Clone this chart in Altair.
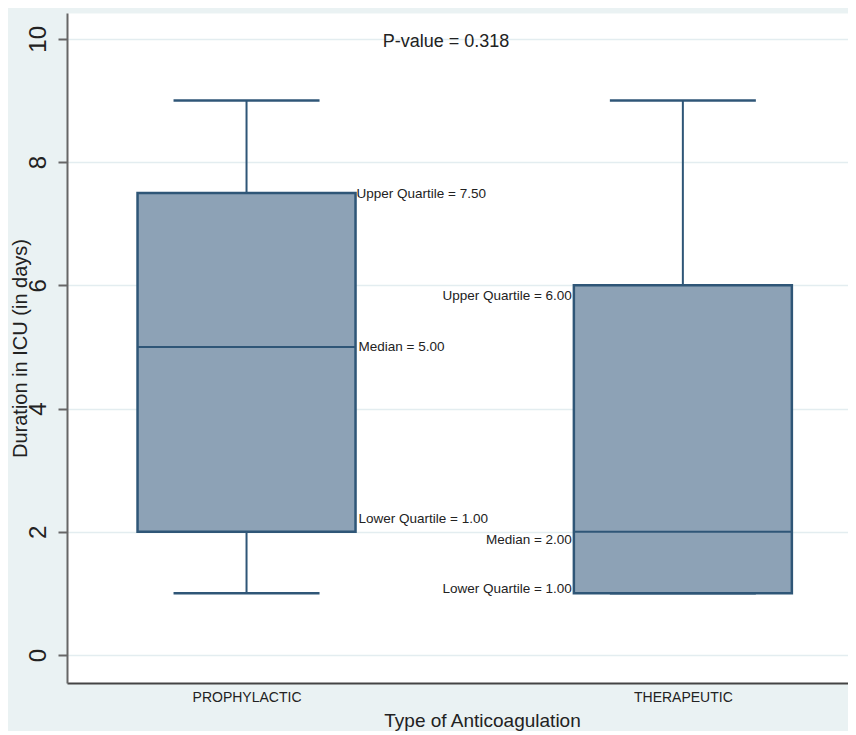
import altair as alt
import pandas as pd

# ---- data ----
categories = ["PROPHYLACTIC", "THERAPEUTIC"]
positions = [1, 2]
whisker_low = [1, 1]
q1 = [2, 1]
median = [5, 2]
q3 = [7.5, 6]
whisker_high = [9, 9]

ann_text = ["Upper Quartile = 7.50", "Median = 5.00", "Lower Quartile = 1.00",
            "Upper Quartile = 6.00", "Median = 2.00", "Lower Quartile = 1.00"]
ann_group = [1, 1, 1, 2, 2, 2]
ann_value = [7.5, 5, 2, 6, 2, 1]

p_text = ["P-value = 0.318"]
p_x = [1.457]
p_y = [9.95]

y_ticks = [0, 2, 4, 6, 8, 10]

# ---- styles ----
FILL = "#8DA2B6"
STROKE = "#2F5677"
BG = "#EAF2F3"
GRID = "#E3EDF0"
BOX_PX = 218
CAP_PX = 146

df = pd.DataFrame({
    "category": categories, "pos": positions, "wlo": whisker_low,
    "q1": q1, "median": median, "q3": q3, "whi": whisker_high,
})

label_expr = " : ".join(
    f"datum.value == {p} ? '{c}'" for p, c in zip(positions[:-1], categories[:-1])
) + f" : '{categories[-1]}'"

xscale = alt.Scale(domain=[0.6, 2.367], nice=False, zero=False)
yscale = alt.Scale(domain=[-0.455, 10.42], nice=False, zero=False)

x_enc = alt.X("pos:Q", scale=xscale, title="Type of Anticoagulation",
              axis=alt.Axis(values=positions, labelExpr=label_expr, grid=False,
                            ticks=False, tickSize=0, labelPadding=7,
                            labelFontSize=14,
                            labelColor="#222", domainColor="#444", domainWidth=2,
                            titleFontSize=19, titleFontWeight="normal", titleColor="#222",
                            titleX=415, titleY=37, titleBaseline="middle",
                            titleAlign="center", labelFlush=False))
y_enc = alt.Y("wlo:Q", scale=yscale, title="Duration in ICU (in days)",
              axis=alt.Axis(values=y_ticks, format="d", grid=True, gridColor=GRID,
                            gridWidth=1.5,
                            tickSize=9, tickWidth=2, tickColor="#666",
                            domainColor="#666", domainWidth=2,
                            labelAngle=270, labelAlign="center", labelBaseline="bottom",
                            labelPadding=8, labelFontSize=24, labelColor="#222",
                            labelFlush=False,
                            titleFontSize=20, titleFontWeight="normal", titleColor="#222",
                            titleAngle=270, titleX=-47, titleY=335,
                            titleAlign="center", titleBaseline="middle"))

base = alt.Chart(df)

whiskers = base.mark_rule(color=STROKE, strokeWidth=2).encode(
    x=x_enc, y=y_enc, y2="whi:Q")
cap_lo = base.mark_tick(orient="horizontal", size=CAP_PX, thickness=2.5,
                        color=STROKE, opacity=1).encode(x="pos:Q", y="wlo:Q")
cap_hi = base.mark_tick(orient="horizontal", size=CAP_PX, thickness=2.5,
                        color=STROKE, opacity=1).encode(x="pos:Q", y="whi:Q")
box = base.mark_bar(size=BOX_PX, fill=FILL, stroke=STROKE, strokeWidth=2.5,
                    opacity=1).encode(x="pos:Q", y="q1:Q", y2="q3:Q")
med = base.mark_tick(orient="horizontal", size=BOX_PX, thickness=2,
                     color=STROKE, opacity=1).encode(x="pos:Q", y="median:Q")

layers = [whiskers, cap_lo, cap_hi, box, med]

# annotation offsets (pixels) per label
ann_dx = [110, 112, 112, -111, -111, -111]
ann_dy = [1, 0, -13, 11, 8, -4]
for t, g, v, dx, dy in zip(ann_text, ann_group, ann_value, ann_dx, ann_dy):
    d = pd.DataFrame({"t": [t], "pos": [g], "v": [v]})
    layers.append(
        alt.Chart(d).mark_text(align="left" if dx > 0 else "right", baseline="middle",
                               dx=dx, dy=dy, fontSize=13.5, color="#222")
        .encode(x="pos:Q", y="v:Q", text="t:N")
    )

pdf = pd.DataFrame({"t": p_text, "x": p_x, "y": p_y})
layers.append(
    alt.Chart(pdf).mark_text(align="center", baseline="middle", fontSize=18,
                             color="#222")
    .encode(x="x:Q", y="y:Q", text="t:N")
)

chart = alt.layer(*layers).properties(
    width=781, height=670,
    padding={"left": 59, "top": 5, "right": 0, "bottom": 48},
    autosize=alt.AutoSizeParams(type="none"),
    background=BG,
).configure(font="Liberation Sans").configure_view(fill="white", stroke="transparent")

chart.save("out.html", embed_options={"renderer": "svg", "actions": False})
